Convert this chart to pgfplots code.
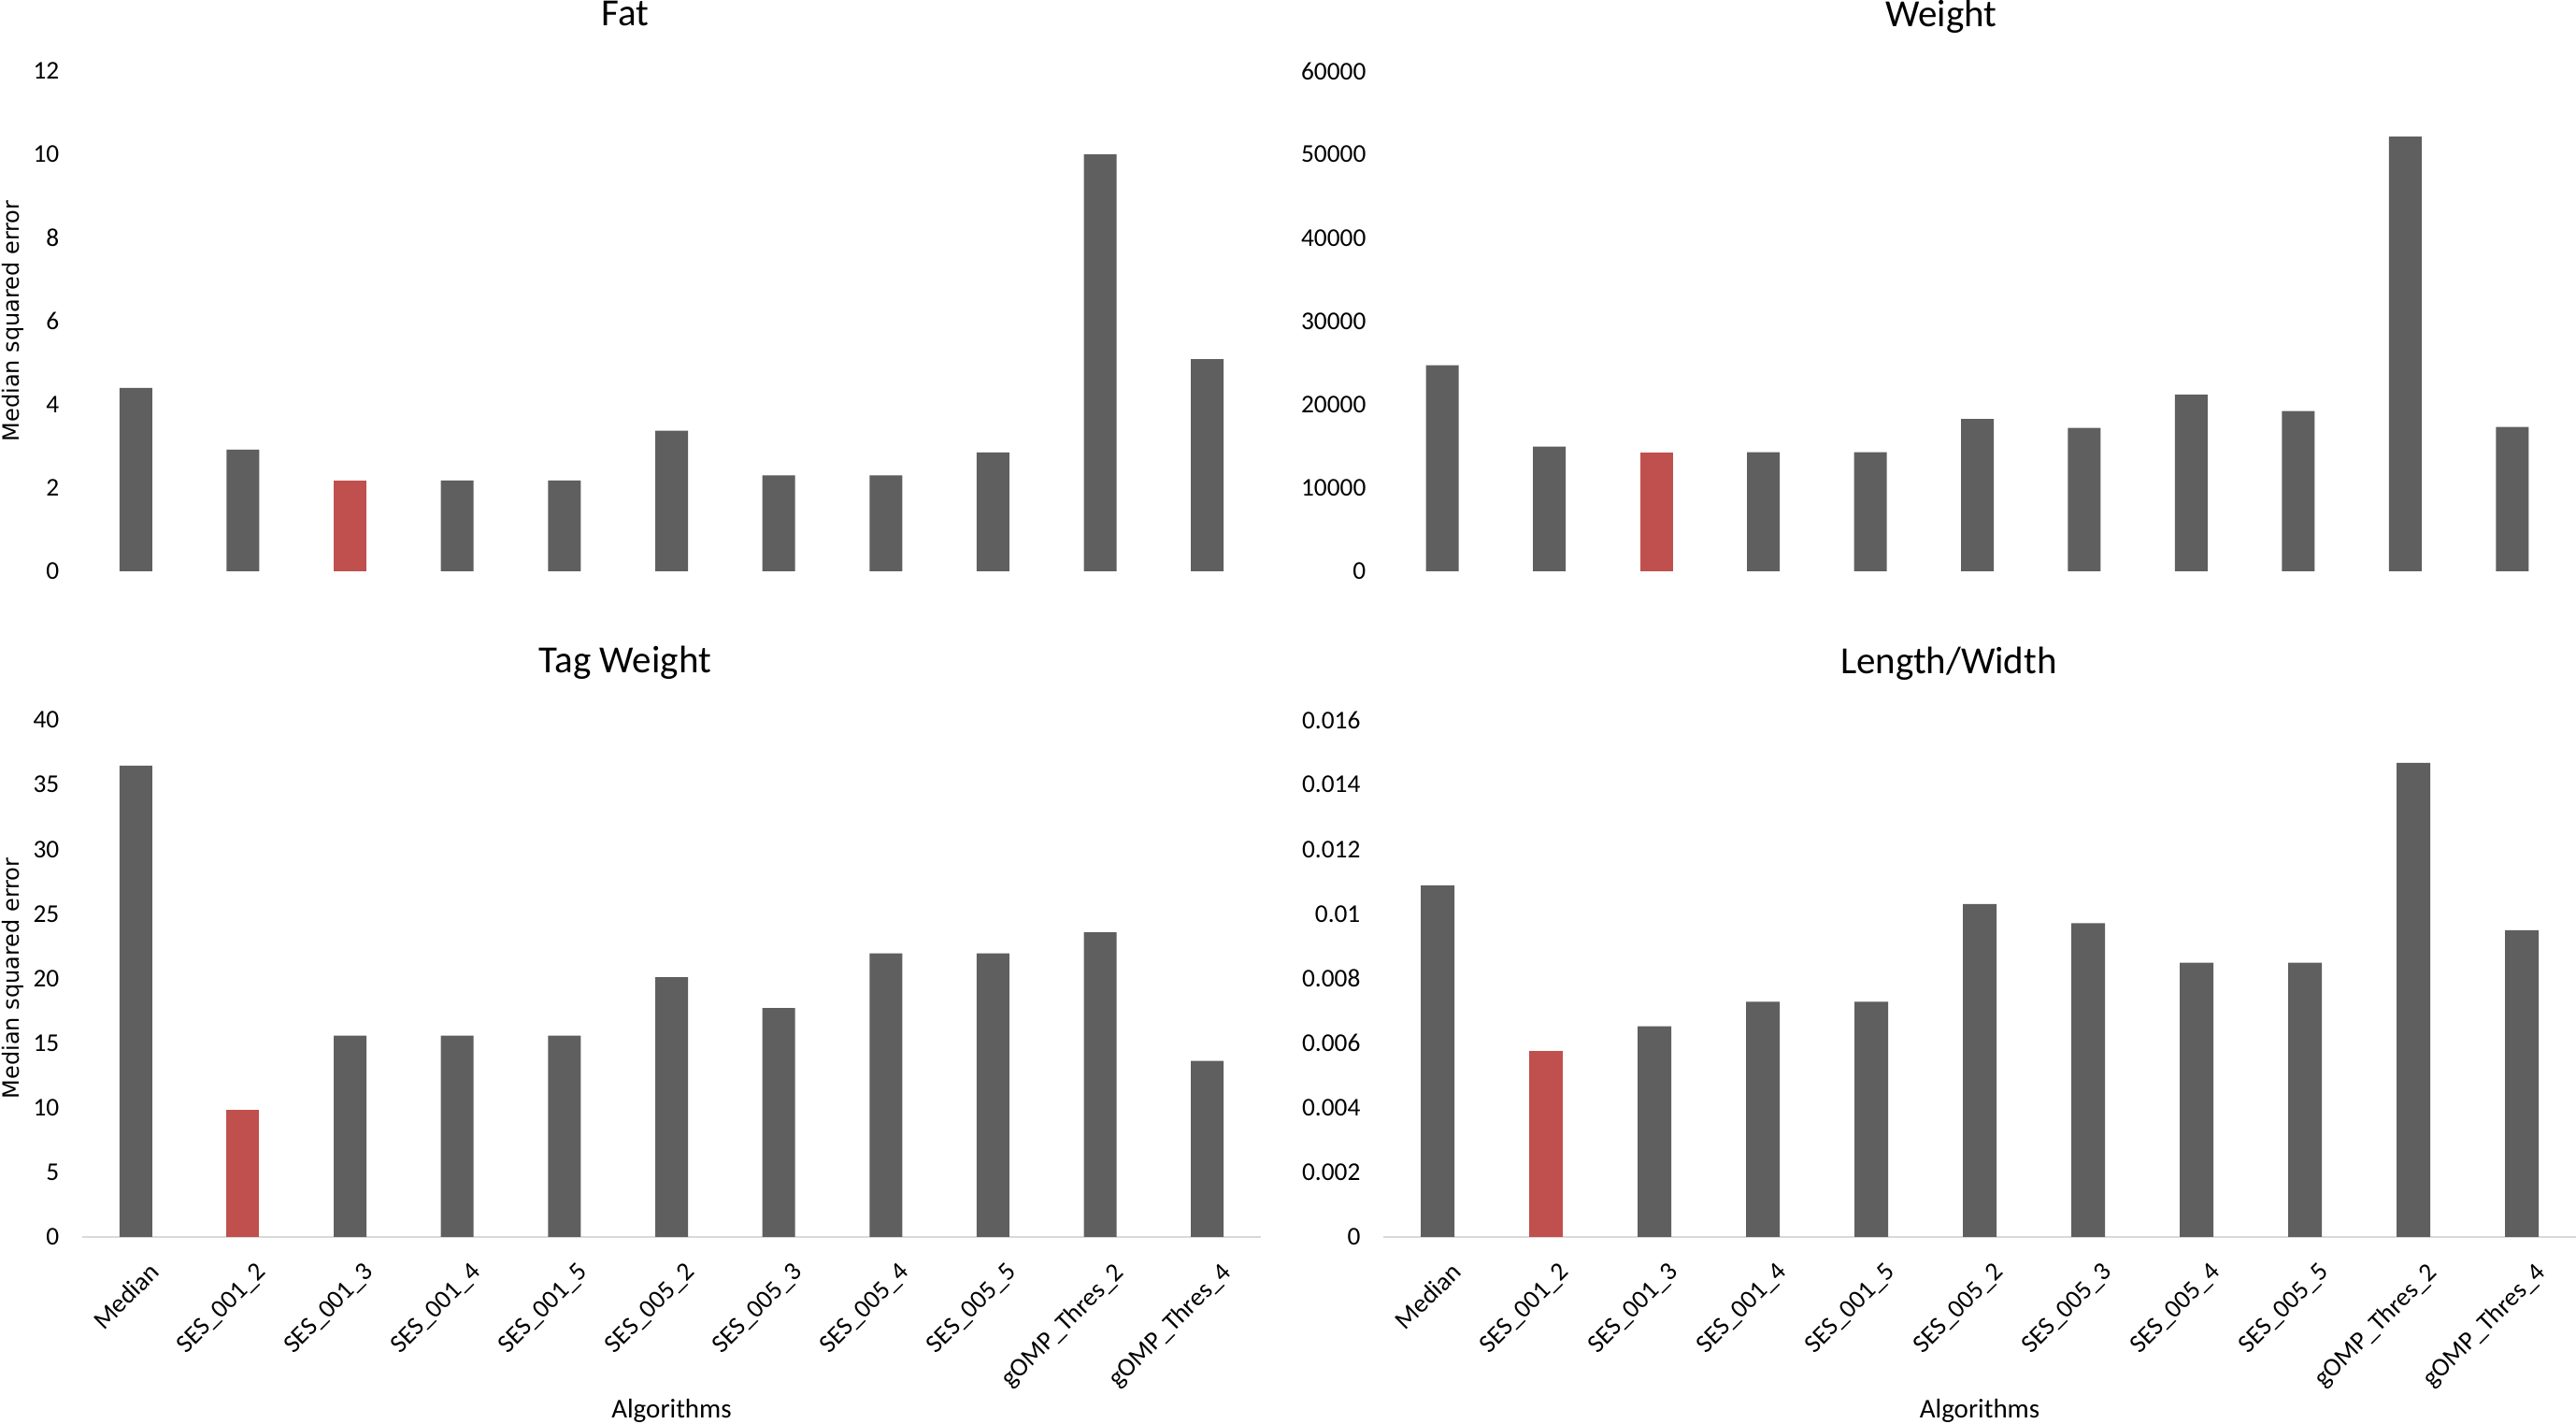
\documentclass[border=0pt]{standalone}
\usepackage{fontspec}
\setmainfont{Carlito}
\newfontfamily\dejavu{DejaVu Sans}
\usepackage{pgfplots}
\pgfplotsset{compat=1.18}
\definecolor{bargray}{RGB}{95,95,95}
\definecolor{barred}{RGB}{192,80,77}
\definecolor{basegray}{RGB}{217,217,217}
\pgfplotsset{
  panel/.style={
    scale only axis, anchor=south west, clip=false,
    xmin=-0.5, xmax=10.5, ymin=0,
    axis x line*=bottom, axis y line*=left,
    y axis line style={draw=none},
    major tick length=0pt,
    xtick={0,...,10},
    /pgf/number format/assume math mode=true,
    /pgf/number format/1000 sep={},
    scaled y ticks=false,
    yticklabel style={font=\fontsize{8.2}{9}\selectfont, inner sep=0pt, anchor=east, xshift=-7.2pt},
    every axis title/.style={font=\fontsize{12.3}{14}\selectfont, anchor=base, inner sep=0pt},
  },
  toppanel/.style={panel, x axis line style={draw=none}, xticklabels={}},
  botpanel/.style={panel,
    x axis line style={draw=basegray, line width=0.6pt},
    xticklabels={Median,SES\_001\_2,SES\_001\_3,SES\_001\_4,SES\_001\_5,SES\_005\_2,SES\_005\_3,SES\_005\_4,SES\_005\_5,gOMP\_Thres\_2,gOMP\_Thres\_4},
    xticklabel style={font=\fontsize{8.3}{9}\selectfont, rotate=45, anchor=north east, inner sep=0pt, xshift=-2.5pt, yshift=-8.1pt},
    xlabel={Algorithms},
    xlabel style={at={(axis description cs:0.5,-0.35)}, anchor=base, font=\fontsize{8.7}{10}\selectfont},
  },
  leftlabel/.style={ylabel={Median squared error},
    ylabel style={at={(axis description cs:-0.0587,0.5)}, anchor=center, font=\dejavu\fontsize{7.2}{8}\selectfont}},
}
\begin{document}
\begin{tikzpicture}
\useasboundingbox (0,0) rectangle (826.8pt,456.9pt);
% Fat
\begin{axis}[toppanel, leftlabel, at={(26.4pt,273.6pt)}, width=378.3pt, height=160.5pt,
  ymax=12, ytick={0,2,4,6,8,10,12},
  title={Fat}, title style={at={(axis description cs:0.4607,1.0897)}}]
\addplot[ybar, bar width=10.5pt, fill=bargray, draw=none] coordinates
  {(0,4.40) (1,2.92) (3,2.18) (4,2.18) (5,3.37) (6,2.30) (7,2.30) (8,2.85) (9,10.0) (10,5.09)};
\addplot[ybar, bar width=10.5pt, fill=barred, draw=none] coordinates {(2,2.18)};
\end{axis}
% Weight
\begin{axis}[toppanel, at={(445.8pt,273.6pt)}, width=377.7pt, height=160.5pt,
  ymax=60000, ytick={0,10000,20000,30000,40000,50000,60000},
  title={Weight}, title style={at={(axis description cs:0.4694,1.0897)}}]
\addplot[ybar, bar width=10.5pt, fill=bargray, draw=none] coordinates
  {(0,24700) (1,14950) (3,14290) (4,14290) (5,18270) (6,17210) (7,21190) (8,19220) (9,52140) (10,17310)};
\addplot[ybar, bar width=10.5pt, fill=barred, draw=none] coordinates {(2,14290)};
\end{axis}
% Tag Weight
\begin{axis}[botpanel, leftlabel, at={(26.4pt,60pt)}, width=378.3pt, height=165.9pt,
  ymax=40, ytick={0,5,10,15,20,25,30,35,40},
  title={Tag Weight}, title style={at={(axis description cs:0.4607,1.0904)}}]
\addplot[ybar, bar width=10.5pt, fill=bargray, draw=none] coordinates
  {(0,36.46) (2,15.58) (3,15.58) (4,15.58) (5,20.09) (6,17.71) (7,21.95) (8,21.95) (9,23.57) (10,13.63)};
\addplot[ybar, bar width=10.5pt, fill=barred, draw=none] coordinates {(1,9.85)};
\end{axis}
% Length/Width
\begin{axis}[botpanel, at={(444pt,60pt)}, width=382.8pt, height=165.9pt,
  ymax=0.016, ytick={0,0.002,0.004,0.006,0.008,0.01,0.012,0.014,0.016},
  yticklabel style={/pgf/number format/fixed, /pgf/number format/precision=3},
  title={Length/Width}, title style={at={(axis description cs:0.4741,1.0904)}}]
\addplot[ybar, bar width=10.8pt, fill=bargray, draw=none] coordinates
  {(0,0.01088) (2,0.00652) (3,0.00728) (4,0.00728) (5,0.01030) (6,0.00971) (7,0.00849) (8,0.00849) (9,0.01467) (10,0.00949)};
\addplot[ybar, bar width=10.8pt, fill=barred, draw=none] coordinates {(1,0.00575)};
\end{axis}
\end{tikzpicture}
\end{document}
